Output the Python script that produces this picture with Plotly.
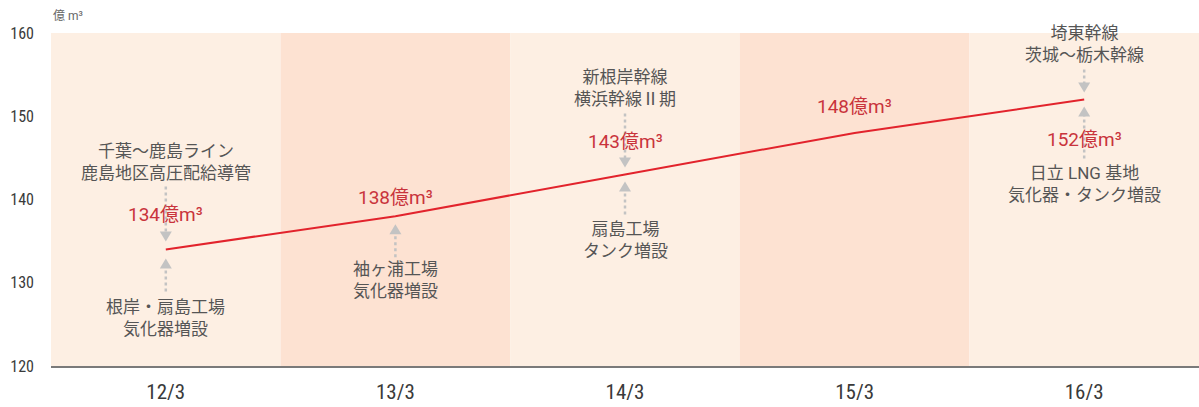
import plotly.graph_objects as go

# ---------------- data ----------------
categories = ["12/3", "13/3", "14/3", "15/3", "16/3"]
values = [134, 138, 143, 148, 152]
value_labels = ["134億m³", "138億m³", "143億m³", "148億m³", "152億m³"]
upper_texts = ["千葉～鹿島ライン<br>鹿島地区高圧配給導管", "", "新根岸幹線<br>横浜幹線Ⅱ期", "", "埼東幹線<br>茨城～栃木幹線"]
lower_texts = ["根岸・扇島工場<br>気化器増設", "袖ヶ浦工場<br>気化器増設", "扇島工場<br>タンク増設", "", "日立 LNG 基地<br>気化器・タンク増設"]
y_ticks = [120, 130, 140, 150, 160]
unit_label = "億 m³"

# ---------------- layout offsets (pixels, up positive) ----------------
upper_text_off = [87, None, 87, None, 56]
lower_text_off = [-69, -64, -65, None, -84]
label_off = [35, 19, 33, 26, -40]
upper_arrow = [(8, 63), None, (7, 61), None, (7, 30)]      # (tip, tail)
lower_arrow = [(-9, -42), (-8, -41), (-7, -40), None, (-7, -59)]

LIGHT = "#fdefe3"
DARK = "#fde2d2"
RED = "#e2232c"
RED_TXT = "#c9343c"
GRAY_TXT = "#555555"
ARROW = "#c3c3c3"
CJK = "Roboto, 'Noto Sans CJK JP', sans-serif"
NARROW = "'Liberation Sans Narrow', 'Roboto Condensed', Roboto, sans-serif"

xs = list(range(len(categories)))

fig = go.Figure()
fig.add_trace(go.Scatter(x=xs, y=values, mode="lines",
                         line=dict(color=RED, width=2), hoverinfo="skip",
                         showlegend=False))

shapes = []
for i in xs:
    shapes.append(dict(type="rect", xref="x", yref="paper", x0=i - 0.5, x1=i + 0.5,
                       y0=0, y1=1, fillcolor=LIGHT if i % 2 == 0 else DARK,
                       line=dict(width=0), layer="below"))

def arrow(i, tip, tail):
    v = values[i]
    shapes.append(dict(type="line", xref="x", yref="y", ysizemode="pixel", yanchor=v,
                       x0=i, x1=i, y0=tail, y1=tip + (9 if tip > 0 else -9),
                       line=dict(color=ARROW, width=2.5, dash="dot"), layer="above"))
    h = 10 if tip > 0 else -10
    path = f"M -6 {tip + h} L 6 {tip + h} L 0 {tip} Z"
    shapes.append(dict(type="path", xref="x", yref="y", xsizemode="pixel", ysizemode="pixel",
                       xanchor=i, yanchor=v, path=path, fillcolor=ARROW,
                       line=dict(width=0), layer="above"))

for i in xs:
    if upper_arrow[i]:
        arrow(i, *upper_arrow[i])
    if lower_arrow[i]:
        arrow(i, *lower_arrow[i])

annotations = []
for i in xs:
    v = values[i]
    if upper_texts[i]:
        annotations.append(dict(x=i, y=v, xref="x", yref="y", yshift=upper_text_off[i],
                                text=upper_texts[i], showarrow=False, yanchor="middle",
                                font=dict(family=CJK, size=17, color=GRAY_TXT)))
    if lower_texts[i]:
        annotations.append(dict(x=i, y=v, xref="x", yref="y", yshift=lower_text_off[i],
                                text=lower_texts[i], showarrow=False, yanchor="middle",
                                font=dict(family=CJK, size=17, color=GRAY_TXT)))
    annotations.append(dict(x=i, y=v, xref="x", yref="y", yshift=label_off[i],
                            text=value_labels[i], showarrow=False, yanchor="middle",
                            font=dict(family=CJK, size=19, color=RED_TXT)))

annotations.append(dict(x=0, y=1, xref="paper", yref="paper", xanchor="left", yanchor="bottom",
                        yshift=8, text=unit_label, showarrow=False,
                        font=dict(family=CJK, size=12, color="#666666")))

fig.update_layout(
    width=1199, height=407,
    margin=dict(l=51, r=0, t=33, b=41),
    paper_bgcolor="white", plot_bgcolor="white",
    shapes=shapes, annotations=annotations,
    showlegend=False,
    xaxis=dict(range=[-0.5, len(categories) - 0.5], tickvals=xs, ticktext=categories,
               showgrid=False, zeroline=False, showline=True, linecolor="#7a7a7a",
               linewidth=2, ticks="", ticklabelstandoff=6, automargin=False,
               tickfont=dict(family=NARROW, size=21, color="#3a3a3a"), fixedrange=True),
    yaxis=dict(range=[120, 160], tickvals=y_ticks, showgrid=False, zeroline=False,
               showline=False, ticks="", ticklabelstandoff=16, automargin=False,
               tickfont=dict(family=NARROW, size=16, color="#3a3a3a"), fixedrange=True),
)

fig.write_html("out.html")
